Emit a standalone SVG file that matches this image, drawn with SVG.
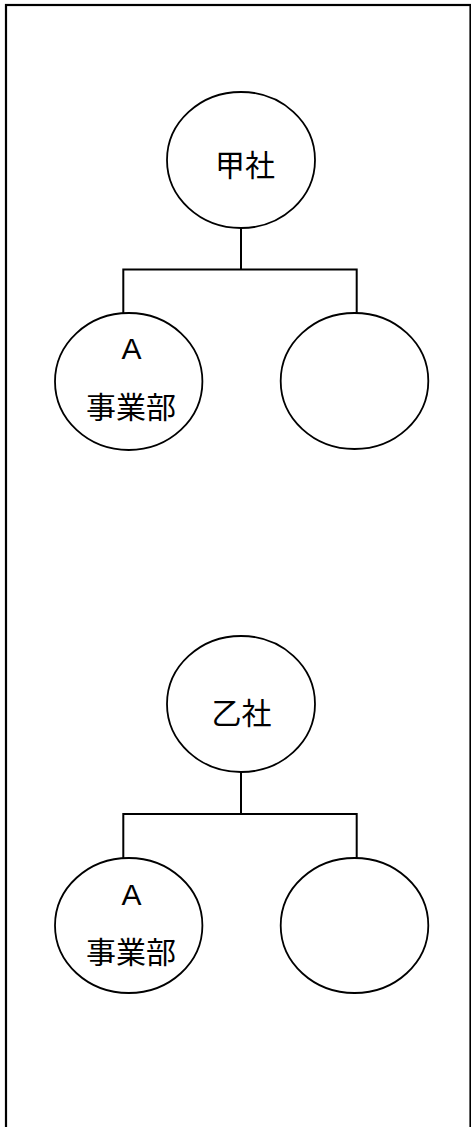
<svg xmlns="http://www.w3.org/2000/svg" width="471" height="1127" viewBox="0 0 471 1127">
<style>
.frame{fill:none;stroke:#000;stroke-width:2.2}
.node{fill:#fff;stroke:#000;stroke-width:1.8}
.conn{fill:none;stroke:#000;stroke-width:2}
.lbl{font-family:"Noto Sans CJK JP","Liberation Sans",sans-serif;font-size:30px;fill:#000;text-anchor:middle}
.lat{font-family:"Liberation Sans","Noto Sans CJK JP",sans-serif;font-size:30px;fill:#000;text-anchor:middle}
</style>
<rect width="471" height="1127" fill="#fff"/>
<rect class="frame" x="6" y="5" width="464.5" height="1140"/>
<g id="connectors">
<path class="conn" d="M241 228V269.5M123.3 313V269.5H356.7V313"/>
<path class="conn" d="M241 772V814M123.3 858V814H356.7V858"/>
</g>
<g id="kousha">
<ellipse class="node" cx="241" cy="160" rx="74" ry="68"/>
<text class="lbl" x="245" y="176">甲社</text>
</g>
<g id="kousha-a">
<ellipse class="node" cx="128.7" cy="381.5" rx="73.7" ry="68.5"/>
<text class="lat" x="131.5" y="359">A</text>
<text class="lbl" x="131" y="418">事業部</text>
</g>
<g id="kousha-b">
<ellipse class="node" cx="354.5" cy="381" rx="73.8" ry="68"/>
</g>
<g id="otsusha">
<ellipse class="node" cx="241" cy="704" rx="74" ry="68"/>
<text class="lbl" x="241.5" y="724">乙社</text>
</g>
<g id="otsusha-a">
<ellipse class="node" cx="128.7" cy="925.5" rx="73.7" ry="67.5"/>
<text class="lat" x="131.5" y="905">A</text>
<text class="lbl" x="131" y="963">事業部</text>
</g>
<g id="otsusha-b">
<ellipse class="node" cx="354.5" cy="925.5" rx="73.8" ry="67.5"/>
</g>
</svg>
